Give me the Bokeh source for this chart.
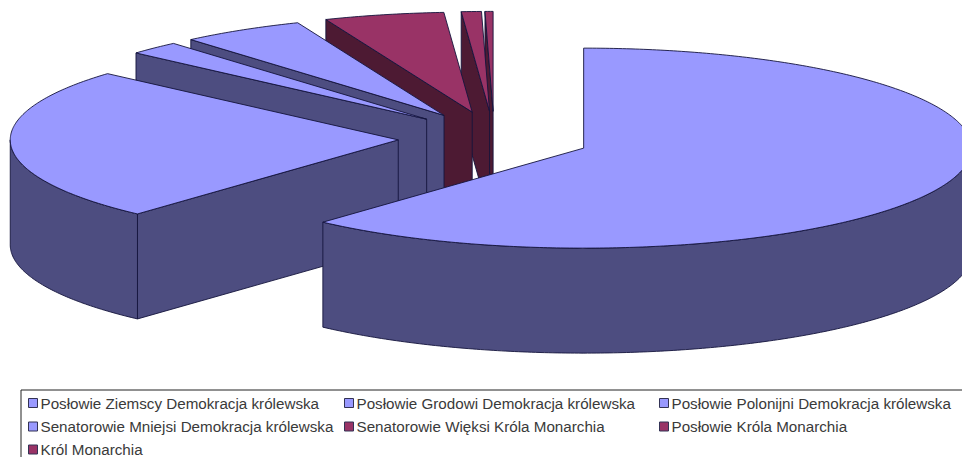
import math
from bokeh.plotting import figure
from bokeh.embed import file_html
from bokeh.resources import INLINE
from bokeh.core.properties import value

categories = ["Posłowie Ziemscy Demokracja królewska", "Posłowie Grodowi Demokracja królewska",
              "Posłowie Polonijni Demokracja królewska", "Senatorowie Mniejsi Demokracja królewska",
              "Senatorowie Więksi Króla Monarchia", "Posłowie Króla Monarchia", "Król Monarchia"]
seats = [371, 149, 13, 31, 30, 5, 2]
top_colors = ["#9999FF"] * 4 + ["#993366"] * 3
side_colors = ["#4D4D80"] * 4 + ["#4D1A33"] * 3

W, H = 962, 457
CX, CY, RX, RY, DEPTH = 493.6, 137.9, 388.0, 100.0, 105.0
EXPLODE_X, EXPLODE_Y = 0.2474, 0.27

p = figure(width=W, height=H, x_range=(0, W), y_range=(H, 0), output_backend="svg",
           toolbar_location=None, min_border=0, outline_line_color=None,
           background_fill_color="white", border_fill_color="white")
p.axis.visible = False
p.grid.visible = False

total = sum(seats)
start = 0.0
slices = []
for v in seats:
    sweep = v / total * 2 * math.pi
    slices.append((start, start + sweep))
    start += sweep


def rim(ax, ay, t):
    return ax + RX * math.sin(t), ay - RY * math.cos(t)


def face(xs, ys, fill, line="#14143C"):
    p.patch(xs, ys, fill_color=fill, line_color=line, line_width=0.9, line_join="round")


for i in range(len(seats) - 1, -1, -1):
    a, b = slices[i]
    mid = (a + b) / 2
    ax = CX + EXPLODE_X * RX * math.sin(mid)
    ay = CY - EXPLODE_Y * RY * math.cos(mid)
    # cut faces turned towards the viewer
    if math.pi < a < 2 * math.pi:
        rx0, ry0 = rim(ax, ay, a)
        face([ax, rx0, rx0, ax], [ay, ry0, ry0 + DEPTH, ay + DEPTH], side_colors[i])
    if 0 < b < math.pi:
        rx0, ry0 = rim(ax, ay, b)
        face([ax, rx0, rx0, ax], [ay, ry0, ry0 + DEPTH, ay + DEPTH], side_colors[i])
    # outer wall: the front half of the rim
    w0, w1 = max(a, math.pi / 2), min(b, 3 * math.pi / 2)
    if w1 > w0:
        n = max(3, int((w1 - w0) * 90))
        ts = [w0 + (w1 - w0) * k / n for k in range(n + 1)]
        pts = [rim(ax, ay, t) for t in ts]
        xs = [q[0] for q in pts]
        ys = [q[1] for q in pts]
        face(xs + xs[::-1], ys + [y + DEPTH for y in ys[::-1]], side_colors[i])
    # top
    n = max(3, int((b - a) * 90))
    ts = [a + (b - a) * k / n for k in range(n + 1)]
    pts = [rim(ax, ay, t) for t in ts]
    face([ax] + [q[0] for q in pts], [ay] + [q[1] for q in pts], top_colors[i])

# legend frame
p.line([20.5, 20.5, W], [H, 389.5, 389.5], line_color="#222222", line_width=1)

col_x = [28, 344, 659]
row_y = [402.5, 426, 449]
for i, name in enumerate(categories):
    x = col_x[i % 3]
    y = row_y[i // 3]
    p.quad(left=x, right=x + 9, top=y - 4.5, bottom=y + 4.5, fill_color=top_colors[i],
           line_color="#333355", line_width=1)
    p.text([x + 12], [y], text=[name], text_font=value("Liberation Sans"), text_font_size="15.2px",
           text_color="#3A3A3A", text_baseline="middle", text_align="left")

open("out.html", "w").write(file_html(p, INLINE))
